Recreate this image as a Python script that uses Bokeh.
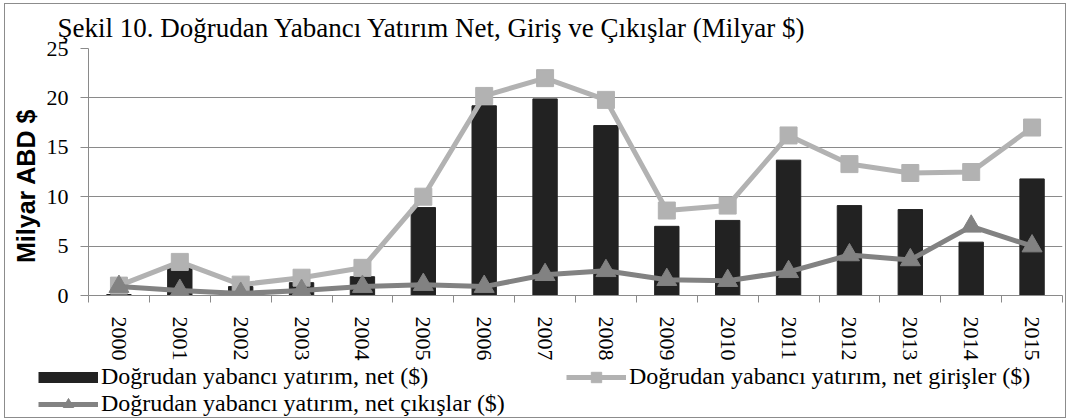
from bokeh.plotting import figure
from bokeh.layouts import column
from bokeh.models import Range1d, FixedTicker, Legend, LegendItem
from bokeh.embed import file_html
from bokeh.resources import INLINE

# ---- data ----
years = ["2000", "2001", "2002", "2003", "2004", "2005", "2006", "2007",
         "2008", "2009", "2010", "2011", "2012", "2013", "2014", "2015"]
net = [0.1, 2.8, 0.9, 1.3, 1.9, 8.9, 19.2, 19.9, 17.2, 7.0, 7.6, 13.7, 9.1, 8.7, 5.4, 11.8]
inflows = [1.0, 3.4, 1.1, 1.8, 2.8, 10.0, 20.2, 22.0, 19.8, 8.6, 9.1, 16.2, 13.3, 12.4, 12.5, 17.0]
outflows = [0.9, 0.5, 0.2, 0.5, 0.9, 1.1, 0.9, 2.1, 2.5, 1.6, 1.5, 2.4, 4.1, 3.6, 7.0, 5.0]
y_ticks = [0, 5, 10, 15, 20, 25]

title_text = "Şekil 10. Doğrudan Yabancı Yatırım Net, Giriş ve Çıkışlar (Milyar $)"
y_label = "Milyar ABD $"
labels = ["Doğrudan yabancı yatırım, net ($)",
          "Doğrudan yabancı yatırım, net girişler ($)",
          "Doğrudan yabancı yatırım, net çıkışlar ($)"]

BAR = "#222222"
LIGHT = "#b2b2b2"
MID = "#828282"
GRID = "#8a8a8a"
SERIF = "Liberation Serif"

idx = list(range(len(years)))

# ---------------- main chart ----------------
p = figure(width=1060, height=359, output_backend="svg", toolbar_location=None, tools="",
           x_range=Range1d(-0.5, len(years) - 0.5), y_range=Range1d(0, 25),
           min_border_left=83, min_border_right=3, min_border_top=44, min_border_bottom=67)
p.frame_align = False

p.outline_line_color = None
p.background_fill_color = "white"
p.border_fill_color = "white"

p.title.text = title_text
p.title.text_font = SERIF
p.title.text_font_size = "27px"
p.title.text_font_style = "normal"
p.title.text_color = "black"
p.title.align = "left"
p.title.offset = -31
p.title.standoff = 12

p.xgrid.visible = False
p.ygrid.grid_line_color = GRID
p.ygrid.grid_line_width = 1
p.ygrid.ticker = FixedTicker(ticks=y_ticks)

ya = p.yaxis[0]
ya.ticker = FixedTicker(ticks=y_ticks)
ya.axis_line_color = GRID
ya.major_tick_line_color = GRID
ya.major_tick_out = 8
ya.major_tick_in = 0
ya.minor_tick_line_color = None
ya.major_label_text_font = SERIF
ya.major_label_text_font_size = "22px"
ya.major_label_text_color = "black"
ya.major_label_standoff = 12
# trailing no-break spaces nudge the (upward-reading) label down a little, as in the original
ya.axis_label = y_label + "\u00a0\u00a0\u00a0\u00a0"
ya.axis_label_text_font = "Liberation Sans"
ya.axis_label_text_font_style = "bold"
ya.axis_label_text_font_size = "25px"
ya.axis_label_text_color = "black"
ya.axis_label_standoff = 4

xa = p.xaxis[0]
xa.ticker = FixedTicker(ticks=idx, minor_ticks=[i - 0.5 for i in idx] + [idx[-1] + 0.5])
xa.major_label_overrides = {i: y for i, y in zip(idx, years)}
xa.axis_line_color = GRID
xa.major_tick_out = 0
xa.major_tick_in = 0
xa.minor_tick_line_color = GRID
xa.minor_tick_out = 7
xa.minor_tick_in = 0
xa.major_label_orientation = "vertical"
xa.major_label_text_font = SERIF
xa.major_label_text_font_size = "22px"
xa.major_label_text_color = "black"
xa.major_label_standoff = 14

p.vbar(x=idx, top=net, width=0.4, fill_color=BAR, line_color=BAR)
p.line(idx, inflows, line_color=LIGHT, line_width=5)
p.scatter(idx, inflows, marker="square", size=17, fill_color=LIGHT, line_color=LIGHT)
p.line(idx, outflows, line_color=MID, line_width=5)
p.scatter(idx, outflows, marker="triangle", size=20, fill_color=MID, line_color=MID)

# ---------------- legend strip ----------------
q = figure(width=1060, height=54, output_backend="svg", toolbar_location=None, tools="",
           x_range=Range1d(-0.5, len(years) - 0.5), y_range=Range1d(100, 101), min_border=0)
q.frame_align = False
q.axis.visible = False
q.grid.visible = False
q.outline_line_color = None
q.border_fill_color = "white"
q.background_fill_color = "white"

# hidden key renderers (same series, not drawn; only used for legend swatches)
k_bar = q.line(idx, net, line_color=BAR, line_width=11, visible=False)
k_in_l = q.line(idx, inflows, line_color=LIGHT, line_width=5, visible=False)
k_in_s = q.scatter(idx, inflows, marker="square", size=17, fill_color=LIGHT, line_color=LIGHT, visible=False)
k_out_l = q.line(idx, outflows, line_color=MID, line_width=5, visible=False)
k_out_s = q.scatter(idx, outflows, marker="triangle", size=20, fill_color=MID, line_color=MID, visible=False)

legend = Legend(items=[
    LegendItem(label=labels[0], renderers=[k_bar]),
    LegendItem(label=labels[1], renderers=[k_in_l, k_in_s]),
    LegendItem(label=labels[2], renderers=[k_out_l, k_out_s]),
], orientation="horizontal", ncols=2, location=(33, 0))
legend.padding = 0
legend.margin = 0
legend.spacing = 0
legend.glyph_width = 60
legend.glyph_height = 26
legend.label_standoff = 3
legend.label_width = 465
legend.label_text_font = SERIF
legend.label_text_font_size = "24px"
legend.label_text_color = "black"
legend.border_line_color = None
legend.background_fill_alpha = 0
legend.inactive_fill_alpha = 0
q.add_layout(legend, "center")

layout = column(p, q, spacing=0,
                styles={"margin-left": "5px", "margin-top": "4px",
                        "outline": "1px solid #8c8c8c", "outline-offset": "0px"})

open("out.html", "w").write(file_html(layout, INLINE))
